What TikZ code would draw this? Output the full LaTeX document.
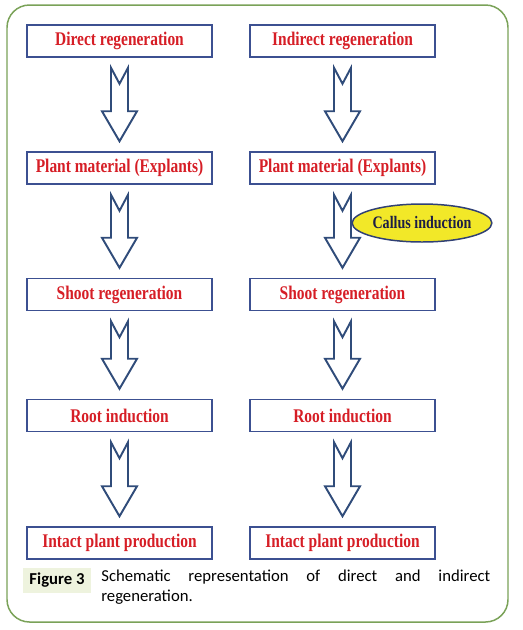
\documentclass[tikz,border=0pt]{standalone}
\usepackage{fontspec}
\usepackage{xcolor}
\usepackage{tikz}
\usetikzlibrary{positioning,calc,shapes.geometric}

\newfontfamily\boxfont{Liberation Serif}[FakeStretch=0.8]
\newfontfamily\capfont{Carlito}

\definecolor{stepred}{RGB}{214,30,38}
\definecolor{stepblue}{RGB}{60,80,145}
\definecolor{arrowblue}{RGB}{48,76,122}
\definecolor{framegreen}{RGB}{122,162,88}
\definecolor{labelgreen}{RGB}{238,243,222}
\definecolor{callusyellow}{RGB}{242,232,40}
\definecolor{callusnavy}{RGB}{28,30,70}

% hollow block arrow from the bottom of #1 to the top of #2
\newcommand{\hollowarrow}[2]{%
  \draw[hollow] ($(#1.south)+(-8.5,-10)$) -- ($(#1.south)+(0,-26)$) -- ($(#1.south)+(8.5,-10)$)
    -- ($(#2.north)+(8.5,40)$) -- ($(#2.north)+(17.5,40)$) -- ($(#2.north)+(0,10)$)
    -- ($(#2.north)+(-17.5,40)$) -- ($(#2.north)+(-8.5,40)$) -- cycle;}

\begin{document}
\begin{tikzpicture}[
    x=0.02cm, y=0.02cm,
    stepbox/.style={draw=stepblue, line width=0.85pt, minimum width=3.7cm, minimum height=0.64cm,
        inner sep=0pt, text=stepred, font=\boxfont\bfseries\fontsize{11}{13}\selectfont},
    hollow/.style={draw=arrowblue, line width=1.1pt, fill=white, line join=miter},
    callus/.style={ellipse, draw=stepblue!80!black, line width=0.85pt, fill=callusyellow,
        minimum width=2.66cm, minimum height=0.76cm, inner sep=0pt, text=callusnavy,
        font=\boxfont\bfseries\fontsize{10}{12}\selectfont},
    figlabel/.style={fill=labelgreen, minimum width=1.36cm, minimum height=0.5cm, inner sep=0pt,
        font=\capfont\bfseries\fontsize{9.5}{11.3}\selectfont}
]
\useasboundingbox (0,0) rectangle (523,-630);

% frame
\draw[framegreen, line width=0.85pt, rounded corners=0.45cm] (7,-5) rectangle (508,-622);

% direct regeneration
\node[stepbox] (dreg) at (119.5,-41) {Direct regeneration};
\node[stepbox] (dmat) at (119.5,-168) {Plant material (Explants)};
\node[stepbox] (dshoot) at (119.5,-294.5) {Shoot regeneration};
\node[stepbox] (droot) at (119.5,-415.5) {Root induction};
\node[stepbox] (dplant) at (119.5,-543) {Intact plant production};

% indirect regeneration
\node[stepbox] (ireg) at (342.5,-41) {Indirect regeneration};
\node[stepbox] (imat) at (342.5,-168) {Plant material (Explants)};
\node[stepbox] (ishoot) at (342.5,-294.5) {Shoot regeneration};
\node[stepbox] (iroot) at (342.5,-415.5) {Root induction};
\node[stepbox] (iplant) at (342.5,-543) {Intact plant production};

\hollowarrow{dreg}{dmat}
\hollowarrow{dmat}{dshoot}
\hollowarrow{dshoot}{droot}
\hollowarrow{droot}{dplant}

\hollowarrow{ireg}{imat}
\hollowarrow{imat}{ishoot}
\hollowarrow{ishoot}{iroot}
\hollowarrow{iroot}{iplant}

\node[callus] (callus) at (422,-223) {Callus induction};

% caption
\node[figlabel] (figlab) at (57,-580.5) {Figure 3};
\node[anchor=north west, text width=7.78cm, align=justify, inner sep=0pt,
    font=\capfont\fontsize{9.5}{11.3}\selectfont] (caption) at (101,-570)
    {\hyphenpenalty=10000 Schematic representation of direct and indirect\linebreak regeneration.};

\end{tikzpicture}
\end{document}
